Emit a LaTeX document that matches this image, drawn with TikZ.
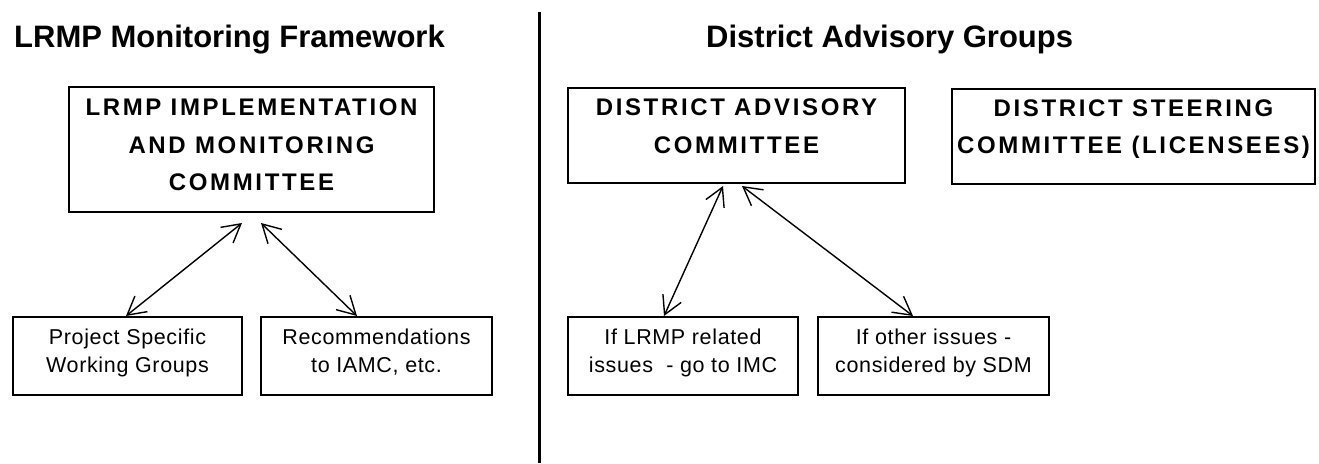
\documentclass[tikz,border=0pt]{standalone}
\usepackage{fontspec}
\setmainfont{Liberation Sans}
\newfontfamily\spacedfont[LetterSpace=11]{Liberation Sans}
\newfontfamily\smallfont[LetterSpace=3]{Liberation Sans}
\usetikzlibrary{arrows.meta}

\tikzset{
  frame/.style={draw, line width=2pt, rectangle, inner sep=0pt},
  bigtext/.style={inner sep=0pt, anchor=north, align=center,
    font=\spacedfont\bfseries\fontsize{24}{37.5}\selectfont},
  smalltext/.style={inner sep=0pt, anchor=north, align=center,
    font=\smallfont\fontsize{21.5}{28}\selectfont},
  heading/.style={inner sep=0pt, anchor=base west,
    font=\bfseries\fontsize{31}{37}\selectfont},
  barb/.tip={Straight Barb[length=18pt, width=20pt]},
  link/.style={line width=1.4pt, {barb}-{barb}}
}

\begin{document}
\begin{tikzpicture}[x=1pt, y=-1pt]
  \useasboundingbox (0,0) rectangle (1319,463);

  % section headings
  \node[heading] (t1) at (14,47) {LRMP Monitoring Framework};
  \node[heading] (t2) at (706,47) {District Advisory Groups};

  % vertical divider between the two sections
  \coordinate (divtop) at (539,12);
  \coordinate (divbot) at (539,463);
  \draw[line width=3pt] (divtop) -- (divbot);

  % committee frames
  \node[frame, minimum width=365pt, minimum height=125pt] (imc) at (251.5,149.5) {};
  \node[frame, minimum width=337pt, minimum height=95pt] (dac) at (736.5,135.5) {};
  \node[frame, minimum width=363pt, minimum height=95pt] (dsc) at (1133.5,136) {};

  \node[bigtext] (imct) at ([yshift=-13pt]imc.north) {LRMP IMPLEMENTATION\\AND MONITORING\\COMMITTEE};
  \node[bigtext] (dact) at ([yshift=-12pt]dac.north) {DISTRICT ADVISORY\\COMMITTEE};
  \node[bigtext] (dsct) at ([yshift=-12pt]dsc.north) {DISTRICT STEERING\\COMMITTEE (LICENSEES)};

  % lower frames
  \node[frame, minimum width=229pt, minimum height=78pt] (pswg) at (127.5,356) {};
  \node[frame, minimum width=231pt, minimum height=78pt] (rec) at (376.5,356) {};
  \node[frame, minimum width=230pt, minimum height=78pt] (lrel) at (683,356) {};
  \node[frame, minimum width=231pt, minimum height=78pt] (oth) at (933.5,356) {};

  \node[smalltext] (pswgt) at ([yshift=-12.5pt]pswg.north) {Project Specific\\Working Groups};
  \node[smalltext] (rect) at ([yshift=-12.5pt]rec.north) {Recommendations\\to IAMC, etc.};
  \node[smalltext] (lrelt) at ([yshift=-12.5pt]lrel.north) {If LRMP related\\issues~~- go to IMC};
  \node[smalltext] (otht) at ([yshift=-12.5pt]oth.north) {If other issues -\\considered by SDM};

  % two-way links
  \coordinate (imcL) at ([xshift=-9.5pt, yshift=-10pt]imc.south);
  \coordinate (imcR) at ([xshift=9.5pt, yshift=-10pt]imc.south);
  \coordinate (dacL) at ([xshift=-13.5pt, yshift=-2pt]dac.south);
  \coordinate (dacR) at ([xshift=5.5pt, yshift=-2pt]dac.south);

  \draw[link] (imcL) -- ([xshift=-1.5pt]pswg.north);
  \draw[link] (imcR) -- ([xshift=-19.5pt]rec.north);
  \draw[link] (dacL) -- ([xshift=-19pt]lrel.north);
  \draw[link] (dacR) -- ([xshift=-20.5pt]oth.north);
\end{tikzpicture}
\end{document}
